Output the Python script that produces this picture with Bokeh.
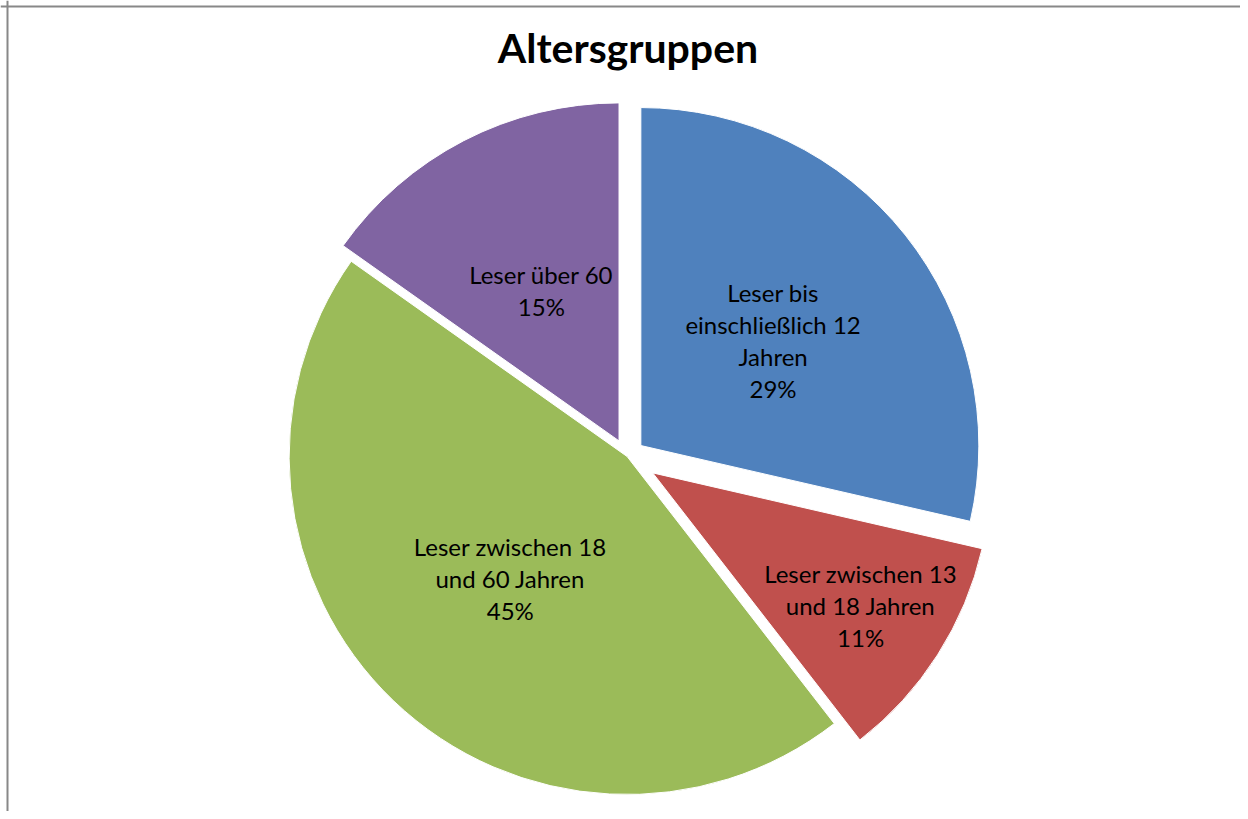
import math
from bokeh.plotting import figure
from bokeh.models import Range1d, Span, Label, ColumnDataSource
from bokeh.core.properties import value
from bokeh.embed import file_html
from bokeh.resources import INLINE

# ---- data ----
categories = ["Leser bis einschließlich 12 Jahren",
              "Leser zwischen 13 und 18 Jahren",
              "Leser zwischen 18 und 60 Jahren",
              "Leser über 60"]
label_text = ["Leser bis\neinschließlich 12\nJahren",
              "Leser zwischen 13\nund 18 Jahren",
              "Leser zwischen 18\nund 60 Jahren",
              "Leser über 60"]
shares = [28.6, 10.9, 45.3, 15.2]
colors = ["#4F81BD", "#C0504D", "#9BBB59", "#8064A2"]
title_text = "Altersgruppen"

# ---- layout ----
W, H = 1240, 811
CX, CY = 626.6, 355.0
R = 338.0
explode = [0.052, 0.09, 0.0, 0.052]
label_frac = [0.5, 0.73, 0.5, 0.5]

p = figure(width=W, height=H, output_backend="svg", toolbar_location=None,
           x_range=Range1d(0, W), y_range=Range1d(0, H), min_border=0,
           background_fill_color="white", border_fill_color="white")
p.axis.visible = False
p.grid.visible = False
p.outline_line_color = None

total = sum(shares)
xs, ys, starts, ends, lx, ly, texts = [], [], [], [], [], [], []
acc = 0.0
for i, v in enumerate(shares):
    t0 = acc / total * 2 * math.pi
    acc += v
    t1 = acc / total * 2 * math.pi
    tm = (t0 + t1) / 2
    dx, dy = math.sin(tm), math.cos(tm)
    ax = CX + explode[i] * R * dx
    ay = CY + explode[i] * R * dy
    xs.append(ax); ys.append(ay)
    starts.append(math.pi / 2 - t0)
    ends.append(math.pi / 2 - t1)
    lx.append(ax + label_frac[i] * R * dx)
    ly.append(ay + label_frac[i] * R * dy)
    texts.append(label_text[i] + "\n" + f"{round(v / total * 100)}%")

src = ColumnDataSource(dict(x=xs, y=ys, start=starts, end=ends, color=colors,
                            cat=categories))
p.wedge(x="x", y="y", radius=R, start_angle="start", end_angle="end",
        direction="clock", fill_color="color", line_color="white",
        line_width=1, source=src)

lsrc = ColumnDataSource(dict(x=lx, y=ly, text=texts))
p.text(x="x", y="y", text="text", source=lsrc, text_align="center",
       text_baseline="middle", text_font=value("Lato"),
       text_font_size="24px", text_color="black", text_line_height=1.11)

p.add_layout(Label(x=627.5, y=H - 47, text=title_text, text_align="center",
                   text_baseline="middle", text_font="Lato",
                   text_font_size="41px", text_font_style="bold",
                   text_color="black"))

p.add_layout(Span(location=7, dimension="height", line_color="#888888", line_width=2))
p.add_layout(Span(location=H - 6, dimension="width", line_color="#888888", line_width=2))

open("out.html", "w").write(file_html(p, INLINE))
